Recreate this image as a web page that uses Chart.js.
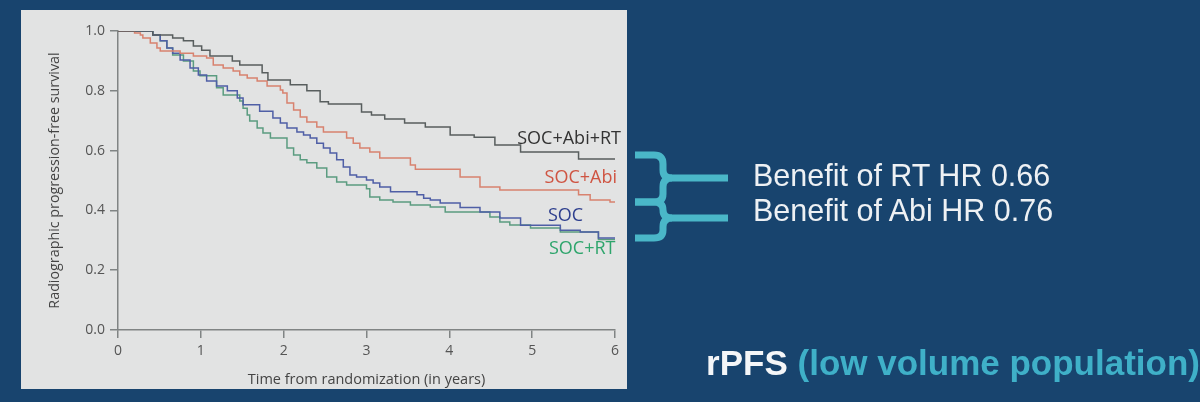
<!DOCTYPE html>
<html>
<head>
<meta charset="utf-8">
<script src="https://cdn.jsdelivr.net/npm/chart.js@4/dist/chart.umd.min.js"></script>
<style>
  html, body { margin: 0; padding: 0; }
  body { width: 1200px; height: 402px; background: #18446e; position: relative; overflow: hidden; font-family: "Liberation Sans", Arial, sans-serif; }
  #panel { position: absolute; left: 21px; top: 10px; width: 606px; height: 379px; background: #e2e3e3; }
  #panel canvas { position: absolute; left: 0; top: 0; }
  .crv { position: absolute; font-family: "Open Sans", sans-serif; font-size: 18px; line-height: 18px; white-space: nowrap; }
  .benefit { position: absolute; left: 753px; color: #eef1f4; font-size: 30.5px; line-height: 30px; white-space: nowrap; }
  #footer { position: absolute; right: 0; top: 345px; font-size: 35px; font-weight: bold; line-height: 35px; white-space: nowrap; color: #3fb0c8; }
  #footer b { color: #f4f6f8; }
  #braces { position: absolute; left: 0; top: 0; }
</style>
</head>
<body>
<div id="panel">
  <canvas id="kmChart" width="606" height="379"></canvas>
  <div class="crv" style="right:6px; top:118px; color:#333;">SOC+Abi+RT</div>
  <div class="crv" style="right:10px; top:157px; color:#cf5442;">SOC+Abi</div>
  <div class="crv" style="left:527px; top:195px; color:#2e3f8e;">SOC</div>
  <div class="crv" style="left:528px; top:228px; color:#2ea56c;">SOC+RT</div>
</div>

<svg id="braces" width="1200" height="402">
  <g fill="none" stroke="#4ab7c8" stroke-width="7" stroke-linejoin="round">
    <path d="M635 155 H654 Q663 155 663 164 V170 Q663 178 672 178 H728" />
    <path d="M672 178 Q663 178 663 187 V194 Q663 202 654 202 H635" />
    <path d="M635 202 H654 Q663 202 663 210 V210 Q663 218 672 218 H728" />
    <path d="M672 218 Q663 218 663 227 V230 Q663 238 654 238 H635" />
  </g>
</svg>

<div class="benefit" style="top:160px;">Benefit of RT HR 0.66</div>
<div class="benefit" style="top:195px;">Benefit of Abi HR 0.76</div>
<div id="footer"><b>rPFS</b> (low volume population)</div>

<script>
'use strict';

// Kaplan-Meier step points (time in years, survival)
const socAbiRtTime = [0, 0.42, 0.66, 0.79, 0.91, 1.01, 1.11, 1.38, 1.47, 1.74, 1.81, 2.08, 2.28, 2.44, 2.54, 2.94, 3.06, 3.22, 3.46, 3.71, 4.01, 4.30, 4.55, 4.86, 5.56, 6.0];
const socAbiRtSurv = [1.0, 0.987, 0.977, 0.967, 0.95, 0.936, 0.916, 0.90, 0.886, 0.86, 0.836, 0.82, 0.80, 0.763, 0.756, 0.729, 0.719, 0.706, 0.692, 0.679, 0.652, 0.645, 0.619, 0.595, 0.572, 0.572];

const socAbiTime = [0, 0.20, 0.27, 0.30, 0.39, 0.47, 0.51, 0.75, 0.91, 1.07, 1.15, 1.27, 1.39, 1.47, 1.56, 1.68, 1.80, 1.96, 1.99, 2.04, 2.12, 2.20, 2.28, 2.40, 2.48, 2.76, 2.84, 2.92, 3.04, 3.16, 3.53, 3.59, 4.13, 4.37, 4.61, 5.56, 5.70, 5.94, 6.0];
const socAbiSurv = [1.0, 0.993, 0.987, 0.977, 0.96, 0.943, 0.933, 0.926, 0.916, 0.91, 0.886, 0.876, 0.866, 0.853, 0.843, 0.833, 0.816, 0.803, 0.793, 0.759, 0.736, 0.712, 0.696, 0.679, 0.662, 0.642, 0.625, 0.609, 0.595, 0.575, 0.552, 0.538, 0.512, 0.478, 0.468, 0.452, 0.435, 0.428, 0.428];

const socTime = [0, 0.42, 0.51, 0.59, 0.66, 0.75, 0.87, 0.97, 1.07, 1.19, 1.32, 1.44, 1.51, 1.71, 1.87, 1.96, 2.04, 2.16, 2.24, 2.32, 2.40, 2.48, 2.56, 2.64, 2.72, 2.80, 2.88, 3.00, 3.08, 3.16, 3.29, 3.61, 3.69, 3.77, 3.89, 4.13, 4.37, 4.61, 4.86, 5.34, 5.58, 5.80, 6.0];
const socSurv = [1.0, 0.987, 0.967, 0.943, 0.926, 0.903, 0.876, 0.853, 0.833, 0.816, 0.80, 0.776, 0.753, 0.732, 0.709, 0.692, 0.676, 0.662, 0.652, 0.642, 0.625, 0.609, 0.592, 0.569, 0.545, 0.518, 0.512, 0.502, 0.492, 0.478, 0.462, 0.452, 0.441, 0.435, 0.425, 0.41, 0.395, 0.375, 0.35, 0.334, 0.328, 0.308, 0.308];

const socRtTime = [0, 0.42, 0.51, 0.59, 0.66, 0.79, 0.91, 0.99, 1.19, 1.27, 1.47, 1.51, 1.56, 1.59, 1.68, 1.75, 1.84, 2.04, 2.12, 2.20, 2.28, 2.40, 2.52, 2.64, 2.76, 3.00, 3.04, 3.16, 3.32, 3.53, 3.77, 3.95, 4.49, 4.61, 4.73, 4.98, 5.34, 5.80, 6.0];
const socRtSurv = [1.0, 0.987, 0.967, 0.943, 0.92, 0.90, 0.866, 0.85, 0.81, 0.786, 0.766, 0.742, 0.719, 0.699, 0.676, 0.659, 0.642, 0.609, 0.585, 0.569, 0.559, 0.542, 0.512, 0.495, 0.485, 0.472, 0.445, 0.435, 0.428, 0.418, 0.411, 0.395, 0.378, 0.361, 0.351, 0.341, 0.328, 0.303, 0.300];

const yTicks = [0, 0.2, 0.4, 0.6, 0.8, 1.0];
const xTicks = [0, 1, 2, 3, 4, 5, 6];

const pts = (t, s) => t.map((v, i) => ({ x: v, y: s[i] }));

const series = [
  { label: 'SOC+Abi+RT', data: pts(socAbiRtTime, socAbiRtSurv), color: '#585e5e' },
  { label: 'SOC+Abi',    data: pts(socAbiTime, socAbiSurv),     color: '#d8826f' },
  { label: 'SOC',        data: pts(socTime, socSurv),           color: '#4f5fa6' },
  { label: 'SOC+RT',     data: pts(socRtTime, socRtSurv),       color: '#5b9c80' },
];

const axisColor = '#808484';
const tickFont = { family: 'Open Sans', size: 14 };

new Chart(document.getElementById('kmChart'), {
  type: 'line',
  data: {
    datasets: series.map(s => ({
      label: s.label,
      data: s.data,
      borderColor: s.color,
      borderWidth: 1.5,
      pointRadius: 0,
      stepped: 'before',
      fill: false,
    })),
  },
  options: {
    responsive: false,
    animation: false,
    layout: { padding: { left: 0, right: 12, top: 21, bottom: 0 } },
    plugins: { legend: { display: false }, tooltip: { enabled: false } },
    scales: {
      x: {
        type: 'linear',
        min: 0, max: 6,
        afterFit: s => { s.height = 59; },
        afterBuildTicks: s => { s.ticks = xTicks.map(v => ({ value: v })); },
        border: { display: true, color: axisColor, width: 1.5 },
        grid: { display: true, drawOnChartArea: false, drawTicks: true, tickLength: 8, color: axisColor, lineWidth: 1.5 },
        ticks: { color: '#555', font: tickFont, padding: 5, callback: v => String(v) },
        title: { display: true, text: 'Time from randomization (in years)', color: '#444', font: { family: 'Open Sans', size: 14.5 }, padding: { top: 0, bottom: 0 } },
      },
      y: {
        min: 0, max: 1,
        afterFit: s => { s.width = 97; },
        afterBuildTicks: s => { s.ticks = yTicks.map(v => ({ value: v })); },
        border: { display: true, color: axisColor, width: 1.5 },
        grid: { display: true, drawOnChartArea: false, drawTicks: true, tickLength: 8, color: axisColor, lineWidth: 1.5 },
        ticks: { color: '#555', font: tickFont, padding: 5, callback: v => Number(v).toFixed(1) },
        title: { display: true, text: 'Radiographic progression-free survival', color: '#444', font: { family: 'Open Sans', size: 14.3 }, padding: { top: 25, bottom: 0 } },
      },
    },
  },
});
</script>
</body>
</html>
